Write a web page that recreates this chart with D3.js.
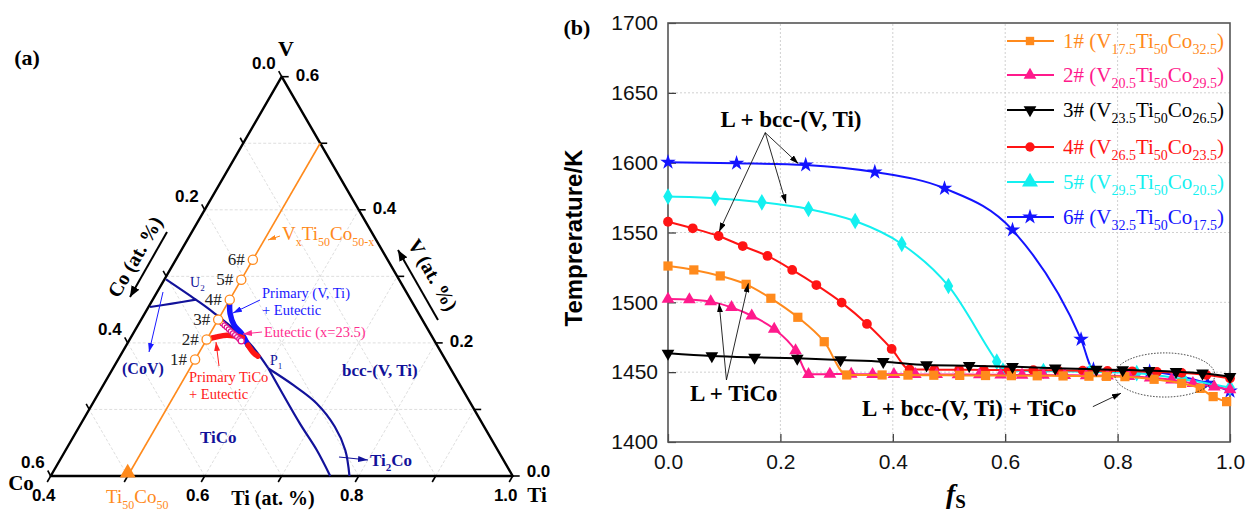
<!DOCTYPE html>
<html>
<head>
<meta charset="UTF-8">
<title>V-Ti-Co solidification</title>
<script src="https://cdn.jsdelivr.net/npm/d3@7"></script>
<style>
  body { margin: 0; background: #fff; }
  text { font-family: "Liberation Serif", "Times New Roman", serif; }
  .sans { font-family: "Liberation Sans", Arial, sans-serif; }
</style>
</head>
<body>
<div id="chart"></div>
<script>
// ---------- panel (b) data: solid fraction vs temperature ----------
var fs1 = [0, 0.046, 0.093, 0.139, 0.183, 0.231, 0.278, 0.318, 0.381, 0.427, 0.473, 0.519, 0.565, 0.611, 0.657, 0.703, 0.749, 0.78, 0.813, 0.865, 0.914, 0.947, 0.97, 0.994];
var T1  = [1526, 1523.2, 1518.9, 1512.9, 1502.9, 1489.3, 1471.8, 1448, 1448, 1447.9, 1447.8, 1447.7, 1447.6, 1447.5, 1447.4, 1447.3, 1447.1, 1447, 1446.8, 1444.9, 1442, 1438.4, 1432.5, 1428.9];
var fs2 = [0, 0.038, 0.076, 0.113, 0.149, 0.189, 0.227, 0.25, 0.288, 0.326, 0.364, 0.402, 0.44, 0.478, 0.516, 0.554, 0.592, 0.63, 0.668, 0.706, 0.744, 0.782, 0.82, 0.858, 0.896, 0.934, 0.972, 1.0];
var T2  = [1502.4, 1502, 1500.5, 1496.4, 1490.4, 1480.9, 1465.4, 1448.5, 1448.6, 1448.6, 1448.5, 1448.5, 1448.4, 1448.4, 1448.3, 1448.2, 1448.1, 1448, 1447.9, 1447.8, 1447.6, 1447.4, 1447, 1446, 1444.5, 1442, 1439.5, 1437.5];
var fs3 = [0, 0.078, 0.154, 0.23, 0.307, 0.383, 0.46, 0.536, 0.613, 0.689, 0.762, 0.809, 0.856, 0.904, 0.951, 1.0];
var T3  = [1463.5, 1461.6, 1460.6, 1459.9, 1458.7, 1457.5, 1455.1, 1454.6, 1453.9, 1452.8, 1452, 1451.6, 1451.1, 1450.4, 1449.2, 1446.8];
var fs4 = [0, 0.044, 0.09, 0.133, 0.177, 0.221, 0.264, 0.309, 0.354, 0.398, 0.43, 0.474, 0.518, 0.562, 0.606, 0.65, 0.694, 0.738, 0.782, 0.826, 0.87, 0.914, 0.958, 1.0];
var T4  = [1557.7, 1553, 1547.5, 1540.3, 1533.2, 1523.2, 1512.4, 1499.8, 1484.5, 1466.6, 1452, 1451.8, 1451.7, 1451.6, 1451.5, 1451.4, 1451.3, 1451.1, 1450.9, 1450.6, 1450.2, 1449.5, 1448, 1445.6];
var fs5 = [0, 0.084, 0.167, 0.25, 0.333, 0.416, 0.499, 0.585, 0.596, 0.668, 0.751, 0.834, 0.917, 1.0];
var T5  = [1575.7, 1574.5, 1571.6, 1566.8, 1558.2, 1541.8, 1511.7, 1457.5, 1451.2, 1450.8, 1450.3, 1449.3, 1445, 1439];
var fs6 = [0, 0.122, 0.245, 0.368, 0.492, 0.613, 0.735, 0.757, 0.857, 0.96, 1.0];
var T6  = [1600.3, 1599.6, 1598.4, 1593.3, 1581.6, 1551.8, 1473.5, 1452, 1450.5, 1442, 1436.5];

var sampleIds   = ["1#", "2#", "3#", "4#", "5#", "6#"];
var sampleSubs  = [["17.5", "50", "32.5"], ["20.5", "50", "29.5"], ["23.5", "50", "26.5"],
                   ["26.5", "50", "23.5"], ["29.5", "50", "20.5"], ["32.5", "50", "17.5"]];
var yTicks = [1400, 1450, 1500, 1550, 1600, 1650, 1700];
var xTicks = [0, 0.2, 0.4, 0.6, 0.8, 1.0];

// ---------- panel (a) data: ternary compositions (Ti at.%, V at.%) ----------
var sampleV = [17.5, 20.5, 23.5, 26.5, 29.5, 32.5];   // all at Ti = 50
var lineU2P1   = [[40.2, 29.55], [45.6, 26.5], [48.8, 24.6], [55.9, 19.9], [60.2, 16.15]];
var lineOuter  = [[60.2, 16.15], [64.7, 13.65], [69.1, 10.9], [73.2, 7.4], [76.3, 3.9], [78.8, 0]];
var lineInner  = [[60.2, 16.15], [68.4, 7.9], [72.6, 3.9], [76.3, 0]];
var lineCoV    = [[40.2, 25.4], [42.8, 25.9], [45.6, 26.5]];
var pathBlue   = [[50, 26.5], [51.1, 24.4], [52.5, 22.65], [54.1, 21.4], [55.8, 19.65]];
var pathRedEnd = [[55.8, 19.65], [57.1, 18.5], [57.9, 18.0]];
var pathRedTiCo= [[50, 20.5], [51.1, 20.9], [52.3, 21.15], [53.6, 21.0], [54.5, 20.8]];
var pathEut    = [[50, 23.5], [50.42, 23.21], [50.84, 22.92], [51.25, 22.63], [51.67, 22.34], [52.09, 22.05],
                  [52.51, 21.75], [52.93, 21.46], [53.35, 21.17], [53.76, 20.88], [54.18, 20.59], [54.6, 20.3]];
var ternTicks = [0, 0.1, 0.2, 0.3, 0.4, 0.5, 0.6];

var colors = ["#ff8a1c", "#ff1a8c", "#000000", "#ff1414", "#14f0f0", "#1414ff"];
var navy = "#12129a";
var orange = "#ff8a1c";

var width = 1255, height = 513;
var svg = d3.select("#chart").append("svg")
  .attr("width", width).attr("height", height);

var defs = svg.append("defs");
function arrowDef(id, col, w, h) {
  defs.append("marker").attr("id", id)
    .attr("markerUnits", "userSpaceOnUse")
    .attr("markerWidth", w).attr("markerHeight", h)
    .attr("refX", w).attr("refY", h / 2).attr("orient", "auto")
    .append("path").attr("d", "M0,0 L" + w + "," + (h / 2) + " L0," + h + " Z").attr("fill", col);
}
arrowDef("aK", "#000", 9, 6);
arrowDef("aKbig", "#000", 11, 9);
arrowDef("aB", "#1a1aff", 9, 6);
arrowDef("aN", navy, 10, 6);
arrowDef("aP", "#ff2d8f", 9, 6);
arrowDef("aR", "#ff2020", 9, 6);
arrowDef("aO", orange, 8, 5);

// text with subscripts: parts = [[str, isSub], ...]
function rich(g, x, y, parts, size, subSize, fill, weight) {
  var t = g.append("text").attr("x", x).attr("y", y)
    .attr("font-size", size).attr("fill", fill).attr("font-weight", weight || "normal");
  var low = false, d = Math.round(size * 0.3);
  parts.forEach(function(p) {
    var s = t.append("tspan").text(p[0]);
    if (p[1]) { s.attr("font-size", subSize); if (!low) { s.attr("dy", d); low = true; } }
    else if (low) { s.attr("dy", -d); low = false; }
  });
  return t;
}

// =================== panel (b) ===================
var xb = d3.scaleLinear().domain([0, 1]).range([668, 1230]);
var yb = d3.scaleLinear().domain([1400, 1700]).range([442, 23]);
var gb = svg.append("g");

gb.selectAll(".gx").data(xTicks.slice(1, -1)).join("line")
  .attr("x1", function(d) { return xb(d); }).attr("x2", function(d) { return xb(d); })
  .attr("y1", yb(1400)).attr("y2", yb(1700))
  .attr("stroke", "#d0d0d0").attr("stroke-dasharray", "2,2");
gb.selectAll(".gy").data(yTicks.slice(1, -1)).join("line")
  .attr("y1", function(d) { return yb(d); }).attr("y2", function(d) { return yb(d); })
  .attr("x1", xb(0)).attr("x2", xb(1))
  .attr("stroke", "#d0d0d0").attr("stroke-dasharray", "2,2");

var yAxis = d3.axisLeft(yb).tickValues(yTicks).tickFormat(d3.format("d")).tickSize(-8).tickPadding(10);
var xAxis = d3.axisBottom(xb).tickValues(xTicks).tickFormat(d3.format(".1f")).tickSize(-8).tickPadding(12);
gb.append("g").attr("transform", "translate(" + xb(0) + ",0)").call(yAxis)
  .call(function(g) { g.select(".domain").remove(); })
  .selectAll("text").attr("class", "sans").attr("font-size", 21).attr("fill", "#111");
gb.append("g").attr("transform", "translate(0," + yb(1400) + ")").call(xAxis)
  .call(function(g) { g.select(".domain").remove(); })
  .selectAll("text").attr("class", "sans").attr("font-size", 21).attr("fill", "#111");
gb.selectAll(".tick line").attr("stroke", "#333").attr("stroke-width", 1.2);
gb.append("rect").attr("x", xb(0)).attr("y", yb(1700))
  .attr("width", xb(1) - xb(0)).attr("height", yb(1400) - yb(1700))
  .attr("fill", "none").attr("stroke", "#555").attr("stroke-width", 1.6);

var seriesFs = [fs1, fs2, fs3, fs4, fs5, fs6];
var seriesT  = [T1, T2, T3, T4, T5, T6];
var markerShape = [d3.symbolSquare, d3.symbolTriangle, d3.symbolTriangle, d3.symbolCircle, d3.symbolDiamond, d3.symbolStar];
var markerSize  = [85, 70, 70, 75, 80, 75];
var markerRot   = [0, 0, 180, 0, 0, 0];
var legendShape = [d3.symbolSquare, d3.symbolTriangle, d3.symbolTriangle, d3.symbolCircle, d3.symbolTriangle, d3.symbolStar];
var legendSize  = [70, 70, 70, 70, 110, 75];

var line = d3.line().x(function(d) { return xb(d[0]); }).y(function(d) { return yb(d[1]); })
  .curve(d3.curveMonotoneX);

[5, 4, 3, 1, 0, 2].forEach(function(i) {
  var pts = seriesFs[i].map(function(f, k) { return [f, seriesT[i][k]]; });
  var g = gb.append("g");
  g.append("path").datum(pts).attr("d", line)
    .attr("fill", "none").attr("stroke", colors[i]).attr("stroke-width", 2);
  g.selectAll("path.m").data(pts).join("path").attr("class", "m")
    .attr("d", d3.symbol().type(markerShape[i]).size(markerSize[i]))
    .attr("transform", function(d) { return "translate(" + xb(d[0]) + "," + yb(d[1]) + ") rotate(" + markerRot[i] + ")"; })
    .attr("fill", colors[i]);
});

// legend
var legY = [41, 75, 110, 147, 182, 217];
sampleIds.forEach(function(id, i) {
  var g = gb.append("g");
  g.append("line").attr("x1", 1007).attr("x2", 1054).attr("y1", legY[i]).attr("y2", legY[i])
    .attr("stroke", colors[i]).attr("stroke-width", 2);
  g.append("path").attr("d", d3.symbol().type(legendShape[i]).size(legendSize[i]))
    .attr("transform", "translate(1030," + legY[i] + ") rotate(" + markerRot[i] + ")")
    .attr("fill", colors[i]);
  var s = sampleSubs[i];
  rich(g, 1063, legY[i] + 7, [[id + " (V", 0], [s[0], 1], ["Ti", 0], [s[1], 1], ["Co", 0], [s[2], 1], [")", 0]],
    21, 14, colors[i]);
});

// annotations
function annot(txt, f, t) {
  gb.append("text").attr("x", xb(f)).attr("y", yb(t)).attr("text-anchor", "middle")
    .attr("dominant-baseline", "middle").attr("font-size", 23).attr("font-weight", "bold").text(txt);
}
function arrowB(f0, t0, f1, t1, m) {
  gb.append("line").attr("x1", xb(f0)).attr("y1", yb(t0)).attr("x2", xb(f1)).attr("y2", yb(t1))
    .attr("stroke", "#111").attr("stroke-width", 0.9).attr("marker-end", "url(#" + (m || "aK") + ")");
}
annot("L + bcc-(V, Ti)", 0.219, 1629);
arrowB(0.173, 1621.5, 0.091, 1550.6);
arrowB(0.173, 1621.5, 0.21, 1570.9);
arrowB(0.173, 1621.5, 0.232, 1599.3);
annot("L + TiCo", 0.117, 1433);
arrowB(0.104, 1444.4, 0.091, 1499.3);
arrowB(0.104, 1444.4, 0.143, 1513.6);
annot("L + bcc-(V, Ti) + TiCo", 0.536, 1422.2);
arrowB(0.756, 1425.3, 0.806, 1434.9);
gb.append("ellipse").attr("cx", xb(0.884)).attr("cy", yb(1448))
  .attr("rx", xb(0.884 + 0.089) - xb(0.884)).attr("ry", yb(1448 - 15.8) - yb(1448))
  .attr("fill", "none").attr("stroke", "#222").attr("stroke-width", 0.9).attr("stroke-dasharray", "1.5,1.5");

// axis titles
gb.append("text").attr("class", "sans").attr("transform", "translate(582,238) rotate(-90)")
  .attr("text-anchor", "middle").attr("font-size", 24).attr("font-weight", "bold").text("Temprerature/K");
var fl = gb.append("text").attr("x", 946).attr("y", 503).attr("font-weight", "bold");
fl.append("tspan").attr("font-style", "italic").attr("font-size", 28).text("f");
fl.append("tspan").attr("font-size", 19).attr("dy", 5).text("S");
svg.append("text").attr("x", 577).attr("y", 35).attr("text-anchor", "middle")
  .attr("font-size", 22).attr("font-weight", "bold").text("(b)");

// =================== panel (a) ternary ===================
var ga = svg.append("g");
var tiX = d3.scaleLinear().domain([0.4, 1.0]).range([50.7, 512.7]);
var vX  = d3.scaleLinear().domain([0, 0.6]).range([0, 231]);
var vY  = d3.scaleLinear().domain([0, 0.6]).range([476, 76.7]);
function P(ti, v) { return [tiX(ti) + vX(v), vY(v)]; }          // fractions
function Pp(d) { return P(d[0] / 100, d[1] / 100); }             // at.%

ga.append("text").attr("x", 27).attr("y", 65).attr("text-anchor", "middle")
  .attr("font-size", 22).attr("font-weight", "bold").text("(a)");

// grid
var gridSegs = [];
ternTicks.slice(1, -1).forEach(function(c) {
  gridSegs.push([P(1 - c, 0), P(0.4, 0.6 - c)]);          // constant Co
  gridSegs.push([P(0.4, c), P(1 - c, c)]);                // constant V
  gridSegs.push([P(1 - c, 0), P(1 - c, c)]);              // constant Ti (ti = 1-c)
});
ga.selectAll(".tg").data(gridSegs).join("line")
  .attr("x1", function(d) { return d[0][0]; }).attr("y1", function(d) { return d[0][1]; })
  .attr("x2", function(d) { return d[1][0]; }).attr("y2", function(d) { return d[1][1]; })
  .attr("stroke", "#d6d6d6").attr("stroke-width", 0.8).attr("stroke-dasharray", "3,2");

// frame
var cCo = P(0.4, 0), cTi = P(1, 0), cV = P(0.4, 0.6);
ga.append("path").attr("d", "M" + cCo + "L" + cTi + "L" + cV + "Z")
  .attr("fill", "none").attr("stroke", "#000").attr("stroke-width", 2.4).attr("stroke-linejoin", "round");

// ticks and tick labels
ternTicks.forEach(function(c) {
  var pl = P(0.4, 0.6 - c);   // left edge, Co = c
  var pr = P(1 - c, c);       // right edge, V = c
  var pb = P(0.4 + c, 0);     // bottom, Ti = 0.4 + c
  ga.append("line").attr("x1", pl[0]).attr("y1", pl[1]).attr("x2", pl[0] - 3).attr("y2", pl[1] - 5.5)
    .attr("stroke", "#000").attr("stroke-width", 1.6);
  ga.append("line").attr("x1", pr[0]).attr("y1", pr[1]).attr("x2", pr[0] + 7).attr("y2", pr[1])
    .attr("stroke", "#000").attr("stroke-width", 1.6);
  ga.append("line").attr("x1", pb[0]).attr("y1", pb[1]).attr("x2", pb[0] - 3.5).attr("y2", pb[1] + 6)
    .attr("stroke", "#000").attr("stroke-width", 1.6);
  if (Math.round(c * 10) % 2 === 0) {
    var fmt = d3.format(".1f");
    ga.append("text").attr("class", "sans").attr("x", pl[0] - 6).attr("y", pl[1] - 12)
      .attr("text-anchor", "end").attr("dominant-baseline", "middle")
      .attr("font-size", 17).attr("font-weight", "bold").text(fmt(c));
    ga.append("text").attr("class", "sans").attr("x", pr[0] + 14).attr("y", pr[1] - (c === 0 ? 3 : 0))
      .attr("dominant-baseline", "middle")
      .attr("font-size", 17).attr("font-weight", "bold").text(fmt(c));
    ga.append("text").attr("class", "sans").attr("x", pb[0] - 7).attr("y", pb[1] + 21)
      .attr("text-anchor", "middle").attr("dominant-baseline", "middle")
      .attr("font-size", 17).attr("font-weight", "bold").text(fmt(0.4 + c));
  }
});

// corner and axis titles
function bold(x, y, txt, size, extra) {
  var t = ga.append("text").attr("x", x).attr("y", y).attr("text-anchor", "middle")
    .attr("dominant-baseline", "middle").attr("font-size", size).attr("font-weight", "bold").text(txt);
  if (extra) t.attr("transform", extra);
  return t;
}
bold(286, 51, "V", 22);
bold(21, 485, "Co", 21);
bold(537, 497, "Ti", 21);
bold(273, 500, "Ti (at. %)", 20);
bold(0, 0, "Co (at. %)", 20, "translate(137,258) rotate(-60)");
bold(0, 0, "V (at. %)", 20, "translate(431,276) rotate(60)");
ga.append("line").attr("x1", 167).attr("y1", 232).attr("x2", 130).attr("y2", 297)
  .attr("stroke", "#000").attr("stroke-width", 2).attr("marker-end", "url(#aKbig)");
ga.append("line").attr("x1", 438).attr("y1", 320).attr("x2", 398).attr("y2", 250)
  .attr("stroke", "#000").attr("stroke-width", 2).attr("marker-end", "url(#aKbig)");

// phase boundaries
var tline = d3.line().x(function(d) { return Pp(d)[0]; }).y(function(d) { return Pp(d)[1]; })
  .curve(d3.curveCatmullRom);
[lineU2P1, lineOuter, lineInner, lineCoV].forEach(function(L) {
  ga.append("path").datum(L).attr("d", tline).attr("fill", "none")
    .attr("stroke", navy).attr("stroke-width", 2.2);
});

// composition line V_x Ti50 Co50-x
ga.append("line").attr("x1", Pp([50, 0])[0]).attr("y1", Pp([50, 0])[1])
  .attr("x2", Pp([50, 50])[0]).attr("y2", Pp([50, 50])[1])
  .attr("stroke", orange).attr("stroke-width", 1.6);
ga.append("path").attr("d", d3.symbol().type(d3.symbolTriangle).size(110))
  .attr("transform", "translate(" + Pp([50, 0])[0] + "," + (Pp([50, 0])[1] - 3) + ")")
  .attr("fill", orange);

// solidification paths
ga.append("path").datum(pathBlue).attr("d", tline).attr("fill", "none")
  .attr("stroke", "#1414ff").attr("stroke-width", 5.5).attr("stroke-linecap", "round");
ga.append("path").datum(pathRedEnd).attr("d", tline).attr("fill", "none")
  .attr("stroke", "#ff1414").attr("stroke-width", 5.5).attr("stroke-linecap", "round");
ga.append("path").datum(pathRedTiCo).attr("d", tline).attr("fill", "none")
  .attr("stroke", "#ff1414").attr("stroke-width", 5.5).attr("stroke-linecap", "round");
ga.selectAll(".eut").data(pathEut).join("circle")
  .attr("cx", function(d) { return Pp(d)[0]; }).attr("cy", function(d) { return Pp(d)[1]; })
  .attr("r", function(d, i) { return i === pathEut.length - 1 ? 3 : 2.4; })
  .attr("fill", "#fff").attr("stroke", "#e0138c").attr("stroke-width", 1.2);

// sample points
ga.selectAll(".smp").data(sampleV).join("circle")
  .attr("cx", function(d) { return Pp([50, d])[0]; }).attr("cy", function(d) { return Pp([50, d])[1]; })
  .attr("r", 4.6).attr("fill", "#fff").attr("stroke", orange).attr("stroke-width", 1.3);
ga.selectAll(".smpl").data(sampleV).join("text")
  .attr("x", function(d) { return Pp([50, d])[0] - 8; }).attr("y", function(d) { return Pp([50, d])[1] + 5; })
  .attr("text-anchor", "end").attr("font-size", 17).attr("fill", "#222")
  .text(function(d, i) { return sampleIds[i]; });

// labels
rich(ga, 282, 240, [["V", 0], ["x", 1], ["Ti", 0], ["50", 1], ["Co", 0], ["50-x", 1]], 19, 12, orange);
ga.append("line").attr("x1", 280).attr("y1", 236).attr("x2", 268).attr("y2", 240)
  .attr("stroke", orange).attr("stroke-width", 1).attr("marker-end", "url(#aO)");
rich(ga, 106, 503, [["Ti", 0], ["50", 1], ["Co", 0], ["50", 1]], 19, 12, orange);

rich(ga, 190, 287, [["U", 0], ["2", 1]], 14, 9, navy);
rich(ga, 270, 365, [["P", 0], ["1", 1]], 14, 9, navy);

function small(x, y, txt, col, w) {
  return ga.append("text").attr("x", x).attr("y", y).attr("font-size", 14.5)
    .attr("fill", col).attr("font-weight", w || "normal").text(txt);
}
small(262, 298, "Primary (V, Ti)", "#1a1aff");
small(262, 315, "+ Eutectic", "#1a1aff");
small(264, 337, "Eutectic (x=23.5)", "#ff2d8f");
small(189, 382, "Primary TiCo", "#ff2020");
small(189, 399, "+ Eutectic", "#ff2020");
ga.append("line").attr("x1", 260).attr("y1", 300).attr("x2", 233).attr("y2", 313)
  .attr("stroke", "#1a1aff").attr("stroke-width", 1).attr("marker-end", "url(#aB)");
ga.append("line").attr("x1", 262).attr("y1", 332).attr("x2", 243).attr("y2", 334)
  .attr("stroke", "#ff2d8f").attr("stroke-width", 1).attr("marker-end", "url(#aP)");
ga.append("line").attr("x1", 219).attr("y1", 366).attr("x2", 216).attr("y2", 342)
  .attr("stroke", "#ff2020").attr("stroke-width", 1).attr("marker-end", "url(#aR)");
ga.append("line").attr("x1", 163).attr("y1", 292).attr("x2", 149).attr("y2", 352)
  .attr("stroke", "#1a1aff").attr("stroke-width", 1).attr("marker-end", "url(#aB)");

function phase(x, y, txt, size) {
  return ga.append("text").attr("x", x).attr("y", y).attr("font-size", size)
    .attr("font-weight", "bold").attr("fill", navy).text(txt);
}
phase(122, 374, "(CoV)", 16);
phase(200, 443, "TiCo", 17);
phase(342, 376, "bcc-(V, Ti)", 17);
rich(ga, 370, 466, [["Ti", 0], ["2", 1], ["Co", 0]], 17, 11, navy).attr("font-weight", "bold");
ga.append("line").attr("x1", 339).attr("y1", 457).attr("x2", 368).attr("y2", 460)
  .attr("stroke", navy).attr("stroke-width", 1.2).attr("marker-end", "url(#aN)");
</script>
</body>
</html>
